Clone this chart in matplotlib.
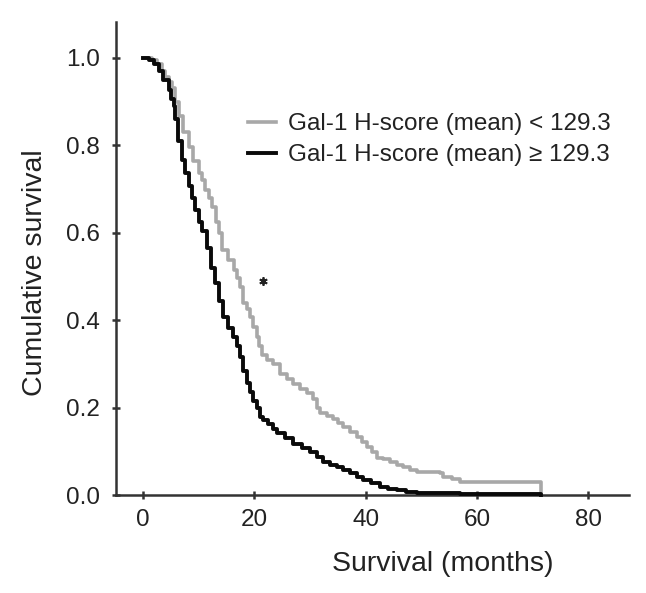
import numpy as np
import matplotlib.pyplot as plt

plt.rcParams['font.family'] = ['Liberation Sans', 'DejaVu Sans']

# Kaplan-Meier curves (months, cumulative survival)
low_t = [0, 1.5, 2.5, 3.3, 3.95, 4.6, 5.15, 5.7, 6.35, 7.2, 8.15, 9.0, 9.95, 10.5,
         11.15, 11.8, 12.35, 13.0, 13.55, 14.15, 15.2, 16.25, 16.8, 17.4, 18.0, 18.6,
         19.2, 19.8, 20.4, 20.9, 21.35, 22.3, 23.4, 24.6, 25.8, 27.0, 28.2, 29.4, 30.6,
         31.2, 31.8, 33.0, 34.2, 35.1, 36.0, 37.2, 38.4, 39.3, 40.2, 41.1, 42.0, 43.2,
         44.4, 45.6, 46.8, 48.0, 49.2, 53.4, 54.0, 55.5, 57.0, 71.6]
low_s = [1.0, 0.995, 0.985, 0.97, 0.957, 0.945, 0.932, 0.9, 0.866, 0.83, 0.797, 0.765,
         0.736, 0.72, 0.698, 0.68, 0.66, 0.625, 0.6, 0.561, 0.538, 0.515, 0.497, 0.477,
         0.44, 0.425, 0.408, 0.385, 0.362, 0.34, 0.32, 0.31, 0.3, 0.278, 0.266, 0.255,
         0.243, 0.233, 0.22, 0.2, 0.188, 0.18, 0.175, 0.165, 0.156, 0.145, 0.133, 0.122,
         0.111, 0.098, 0.084, 0.082, 0.076, 0.07, 0.065, 0.057, 0.052, 0.05, 0.042,
         0.036, 0.03, 0.0]

high_t = [0, 1.0, 2.0, 2.75, 3.6, 4.55, 5.0, 5.45, 5.75, 6.3, 6.95, 7.5, 8.15, 8.8,
          9.35, 10.0, 10.55, 11.45, 12.2, 12.9, 13.6, 14.4, 15.3, 16.2, 16.8, 17.4,
          18.0, 18.6, 19.2, 19.8, 20.4, 21.0, 21.6, 22.5, 23.4, 24.0, 25.5, 27.0, 28.5,
          30.0, 31.2, 32.4, 33.6, 34.8, 36.0, 37.2, 38.4, 39.6, 41.0, 42.6, 44.0, 45.6,
          47.2, 49.2, 53.4, 57.0, 71.6]
high_s = [1.0, 0.995, 0.985, 0.969, 0.95, 0.927, 0.905, 0.889, 0.86, 0.81, 0.767, 0.737,
          0.706, 0.68, 0.652, 0.625, 0.603, 0.565, 0.52, 0.484, 0.445, 0.408, 0.383,
          0.362, 0.34, 0.316, 0.285, 0.256, 0.235, 0.215, 0.2, 0.179, 0.172, 0.162,
          0.152, 0.141, 0.13, 0.118, 0.108, 0.099, 0.088, 0.076, 0.07, 0.065, 0.057,
          0.05, 0.042, 0.034, 0.027, 0.019, 0.015, 0.011, 0.008, 0.005, 0.004, 0.002, 0.0]

labels = ['Gal-1 H-score (mean) < 129.3', 'Gal-1 H-score (mean) \u2265 129.3']
star_pos = (21.6, 0.49)

fig = plt.figure(figsize=(6.46, 5.93), dpi=100)
ax = fig.add_axes([0.18, 0.165, 0.794, 0.798])

ax.step(low_t, low_s, where='post', color='#a8a8a8', lw=2.6, label=labels[0],
        clip_on=False, zorder=3)
ax.step(high_t, high_s, where='post', color='#0a0a0a', lw=2.8, label=labels[1],
        clip_on=False, zorder=4)
ax.plot(*star_pos, marker=(6, 2, 0), color='#222222', ms=6, mew=1.3)

ax.set_xlim(-4.85, 87.4)
ax.set_ylim(0, 1.082)
ax.set_xticks([0, 20, 40, 60, 80])
ax.set_yticks([0.0, 0.2, 0.4, 0.6, 0.8, 1.0])
ax.set_yticklabels(['0.0', '0.2', '0.4', '0.6', '0.8', '1.0'])

for side in ['top', 'right']:
    ax.spines[side].set_visible(False)
for side in ['left', 'bottom']:
    ax.spines[side].set_color('#333333')
    ax.spines[side].set_linewidth(1.8)
    ax.spines[side].set_zorder(2)
ax.tick_params(direction='inout', length=6, width=1.8, color='#333333',
               labelsize=17.5, labelcolor='#222222')
ax.tick_params(axis='y', pad=9)
ax.tick_params(axis='x', pad=7)

ax.set_xlabel('Survival (months)', fontsize=20.5, color='#222222')
ax.xaxis.set_label_coords(0.637, -0.118)
ax.set_ylabel('Cumulative survival', fontsize=20.5, color='#222222')
ax.yaxis.set_label_coords(-0.134, 0.471)

ax.legend(loc='upper left', bbox_to_anchor=(0.237, 0.828), frameon=False,
          fontsize=17.5, handlelength=1.15, handletextpad=0.5, labelspacing=0.38,
          borderaxespad=0, labelcolor='#222222')

fig.savefig('out.png', dpi=100)
